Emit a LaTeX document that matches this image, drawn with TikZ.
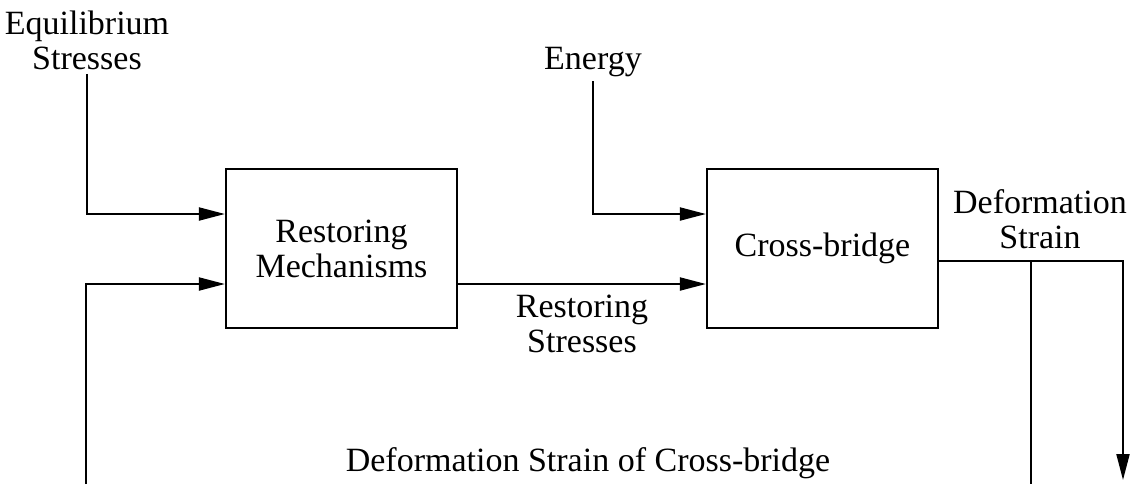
\documentclass[tikz,border=0pt]{standalone}
\usepackage{fontspec}
\setmainfont{Liberation Serif}
\usepackage{tikz}
\usetikzlibrary{calc}
\usetikzlibrary{arrows.meta}
\usetikzlibrary{positioning}

\begin{document}
\begin{tikzpicture}[x=0.5pt, y=-0.5pt,
        font=\fontsize{17}{17.5}\selectfont,
        block/.style={draw, line width=1.1pt, minimum width=115.5pt, minimum height=79.5pt, align=center},
        lbl/.style={align=center, inner sep=2pt},
        flow/.style={line width=1pt, -{Triangle[length=13pt, width=6.5pt]}},
        wire/.style={line width=1pt}]
        % Page size
        \useasboundingbox (0,0) rectangle (1141,484);

        % Blocks
        \node[block] (rm) at (341.5,248.5) {Restoring\\Mechanisms};
        \node[block] (cb) at (822.5,248.5) {Cross-bridge};

        % Inputs
        \node[lbl] (eq) at (87,40) {Equilibrium\\Stresses};
        \node[lbl] (en) at (593,62) {Energy};

        % Loose ends (cut off at the bottom)
        \coordinate (fbL) at (86,484);
        \coordinate (fbR) at (1031,484);
        \coordinate (out) at (1123,480);
        \coordinate (cbout) at ([yshift=-6.25pt]cb.east);

        % Connections
        \draw[flow] (eq.south) |- ([yshift=17.25pt]rm.west); % equilibrium stresses
        \draw[flow] (fbL) |- ([yshift=-17.75pt]rm.west);     % feedback
        \draw[flow] ([yshift=-17.75pt]rm.east) -- ([yshift=-17.75pt]cb.west)
            node[lbl, midway, below=3pt] {Restoring\\Stresses};
        \draw[flow] (en.south) |- ([yshift=17.25pt]cb.west); % energy
        \draw[flow] (cbout) -| (out);                        % output
        \draw[wire] (cbout -| fbR) -- (fbR);                 % branch back

        % Labels
        \node[lbl] (ds) at (1040,219) {Deformation\\Strain};
        \node[lbl] (dscb) at (588,463) {Deformation Strain of Cross-bridge};
    \end{tikzpicture}
\end{document}
